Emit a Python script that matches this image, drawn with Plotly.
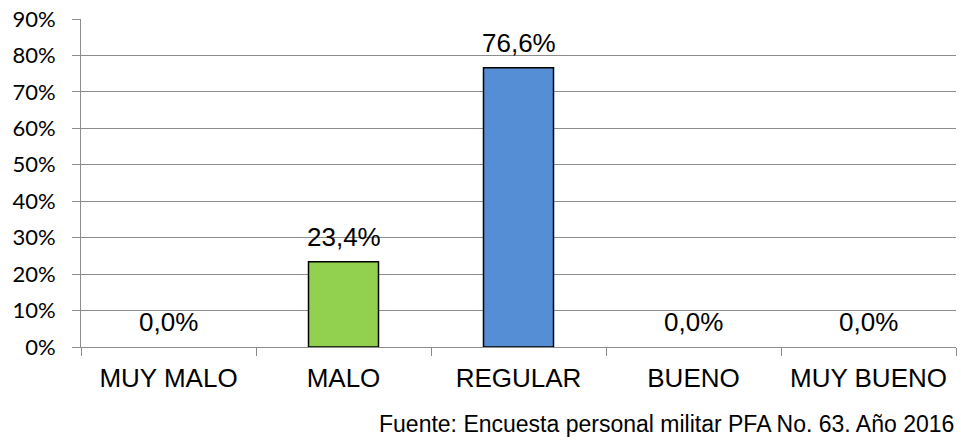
import plotly.graph_objects as go

categorias = ['MUY MALO', 'MALO', 'REGULAR', 'BUENO', 'MUY BUENO']
porcentajes = [0.0, 23.4, 76.6, 0.0, 0.0]
colores = ['#92D050', '#92D050', '#558ED5', '#558ED5', '#558ED5']
etiquetas = ['0,0%', '23,4%', '76,6%', '0,0%', '0,0%']
y_ticks = [0, 10, 20, 30, 40, 50, 60, 70, 80, 90]
y_ticktext = [f'{v}%' for v in y_ticks]
fuente = 'Fuente: Encuesta personal militar PFA No. 63. Año 2016'

arial = 'Liberation Sans, Arial'

fig = go.Figure(go.Bar(
    x=categorias, y=porcentajes, width=0.4,
    marker=dict(color=colores, line=dict(color='black',
                                         width=[1.5 if v > 0 else 0 for v in porcentajes])),
))

# etiquetas de datos encima de cada barra
for cat, val, txt in zip(categorias, porcentajes, etiquetas):
    fig.add_annotation(x=cat, y=val, text=txt, showarrow=False, yanchor='bottom',
                       yshift=8, font=dict(family=arial, size=26, color='black'))

fig.add_annotation(text=fuente, x=1.0, xref='paper', xanchor='right',
                   y=-0.235, yref='paper', yanchor='middle', showarrow=False,
                   font=dict(family=arial, size=23, color='black'))

fig.update_layout(
    width=961, height=446,
    margin=dict(l=81, r=5, t=16, b=99),
    plot_bgcolor='white', paper_bgcolor='white',
    showlegend=False,
)
fig.update_yaxes(range=[0, 90], tickvals=y_ticks, ticktext=y_ticktext,
                 showgrid=True, gridcolor='#8C8C8C', gridwidth=1,
                 showline=True, linecolor='#8C8C8C', linewidth=1,
                 ticks='outside', ticklen=8, tickcolor='#8C8C8C',
                 ticklabelstandoff=12,
                 tickfont=dict(family='Lato', size=22, color='black'),
                 zeroline=False)
fig.update_xaxes(showline=True, linecolor='#8C8C8C', linewidth=1,
                 ticks='outside', ticklen=8, tickcolor='#8C8C8C', tickson='boundaries',
                 ticklabelstandoff=8,
                 tickfont=dict(family=arial, size=26, color='black'))

fig.write_html('out.html', config={'displayModeBar': False},
               post_script="document.body.style.margin='0';")
